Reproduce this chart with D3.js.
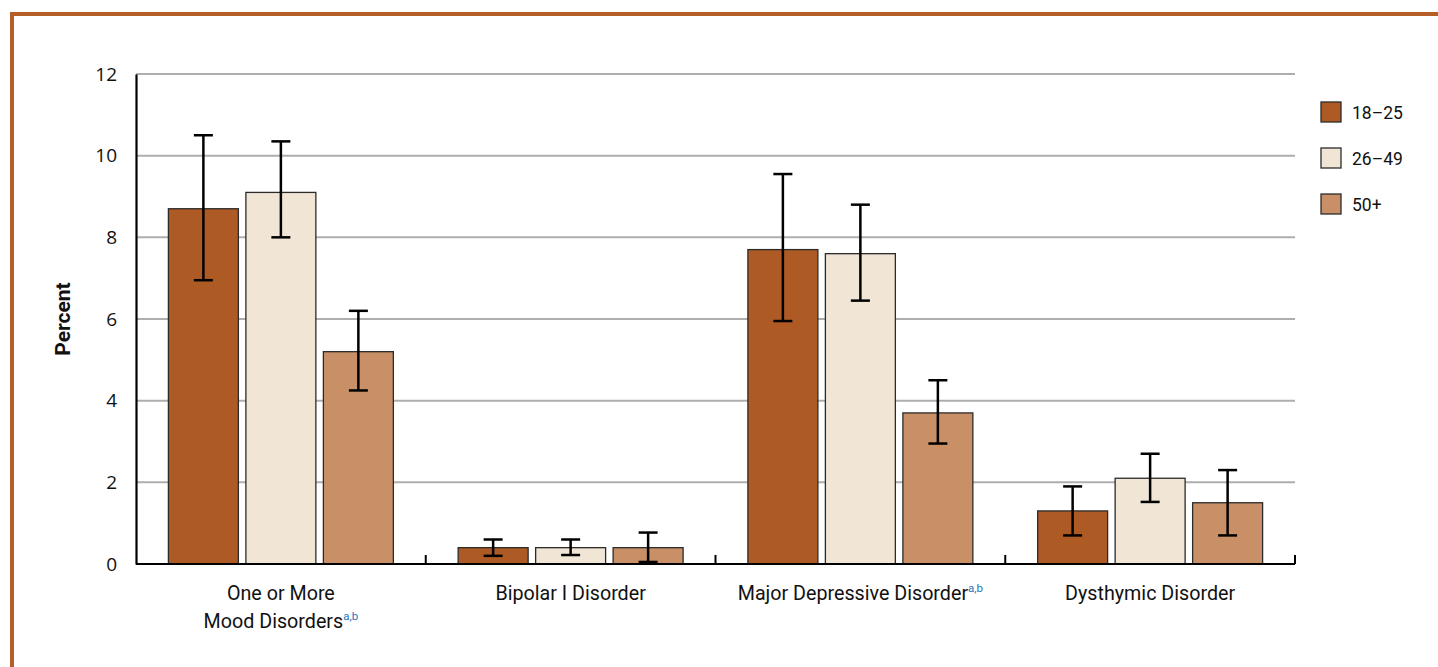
<!DOCTYPE html>
<html>
<head>
<meta charset="utf-8">
<script src="https://cdn.jsdelivr.net/npm/d3@7"></script>
<style>
  html, body { margin: 0; padding: 0; background: #fff; }
  svg { display: block; }
</style>
</head>
<body>
<svg id="chart" width="1438" height="667"></svg>
<script>
// Disorder categories (label lines, superscript footnote marks)
const categories = ["One or More Mood Disorders", "Bipolar I Disorder", "Major Depressive Disorder", "Dysthymic Disorder"];
const categoryLines = [["One or More", "Mood Disorders"], ["Bipolar I Disorder"], ["Major Depressive Disorder"], ["Dysthymic Disorder"]];
const categoryNotes = ["a,b", "", "a,b", ""];

// Age groups
const ageGroups = ["18–25", "26–49", "50+"];

// Percent estimates per age group (one value per category)
const values18to25 = [8.7, 0.4, 7.7, 1.3];
const values26to49 = [9.1, 0.4, 7.6, 2.1];
const values50plus = [5.2, 0.4, 3.7, 1.5];

// Confidence interval bounds
const lower18to25 = [6.95, 0.2, 5.95, 0.7];
const upper18to25 = [10.5, 0.6, 9.55, 1.9];
const lower26to49 = [8.0, 0.22, 6.45, 1.52];
const upper26to49 = [10.35, 0.6, 8.8, 2.7];
const lower50plus = [4.25, 0.05, 2.95, 0.7];
const upper50plus = [6.2, 0.77, 4.5, 2.3];

const yTicks = [0, 2, 4, 6, 8, 10, 12];

const colors = ["#AE5A24", "#F1E5D5", "#C98F66"];

const seriesValues = [values18to25, values26to49, values50plus];
const seriesLower = [lower18to25, lower26to49, lower50plus];
const seriesUpper = [upper18to25, upper26to49, upper50plus];

const svg = d3.select("#chart");

// Frame lines
svg.append("rect").attr("x", 10).attr("y", 12).attr("width", 1428).attr("height", 4).attr("fill", "#B55E27");
svg.append("rect").attr("x", 10).attr("y", 12).attr("width", 4).attr("height", 655).attr("fill", "#B55E27");

const plotLeft = 136, plotRight = 1295, plotTop = 74, plotBottom = 564;

const x = d3.scaleBand().domain(categories).range([plotLeft, plotRight]).paddingInner(0).paddingOuter(0);
const xInner = d3.scaleBand().domain(ageGroups).range([0, x.bandwidth()]).paddingInner(0.097).paddingOuter(0.418);
const y = d3.scaleLinear().domain([0, 12]).range([plotBottom, plotTop]);

// Gridlines
svg.append("g")
  .selectAll("line")
  .data(yTicks.filter(d => d > 0))
  .join("line")
  .attr("x1", plotLeft).attr("x2", plotRight)
  .attr("y1", d => y(d)).attr("y2", d => y(d))
  .attr("stroke", "#AEAEAE").attr("stroke-width", 2);

// Y axis
const yAxis = svg.append("g")
  .attr("transform", `translate(${plotLeft},0)`)
  .call(d3.axisLeft(y).tickValues(yTicks).tickSize(0).tickPadding(19).tickFormat(d3.format("d")));
yAxis.select(".domain").attr("stroke", "#000").attr("stroke-width", 2.2);
yAxis.selectAll("text")
  .attr("font-family", "'Open Sans', 'Noto Sans', sans-serif")
  .attr("font-size", 19).attr("fill", "#111");

const labelFont = "Roboto, 'Liberation Sans', sans-serif";

svg.append("text")
  .attr("transform", `translate(70,${(plotTop + plotBottom) / 2}) rotate(-90)`)
  .attr("text-anchor", "middle")
  .attr("font-family", labelFont)
  .attr("font-weight", "bold")
  .attr("font-size", 21)
  .attr("fill", "#111")
  .text("Percent");

// Bars
const groups = svg.append("g").selectAll("g")
  .data(categories)
  .join("g")
  .attr("transform", d => `translate(${x(d)},0)`);

groups.each(function(cat, ci) {
  const g = d3.select(this);
  ageGroups.forEach((ag, si) => {
    const v = seriesValues[si][ci];
    const bx = xInner(ag);
    g.append("rect")
      .attr("x", bx).attr("y", y(v))
      .attr("width", xInner.bandwidth()).attr("height", y(0) - y(v))
      .attr("fill", colors[si]).attr("stroke", "#2b2b2b").attr("stroke-width", 1.3);
  });
});

// Error bars
groups.each(function(cat, ci) {
  const g = d3.select(this);
  ageGroups.forEach((ag, si) => {
    const cx = xInner(ag) + xInner.bandwidth() / 2;
    const lo = seriesLower[si][ci], hi = seriesUpper[si][ci];
    g.append("line").attr("x1", cx).attr("x2", cx).attr("y1", y(lo)).attr("y2", y(hi))
      .attr("stroke", "#000").attr("stroke-width", 2.5);
    [lo, hi].forEach(b => {
      g.append("line").attr("x1", cx - 9.5).attr("x2", cx + 9.5).attr("y1", y(b)).attr("y2", y(b))
        .attr("stroke", "#000").attr("stroke-width", 2.5);
    });
  });
});

// X axis with upward ticks at category boundaries
svg.append("line").attr("x1", plotLeft).attr("x2", plotRight).attr("y1", plotBottom).attr("y2", plotBottom)
  .attr("stroke", "#000").attr("stroke-width", 2.2);
const boundaries = categories.map(c => x(c)).concat([x(categories[categories.length - 1]) + x.bandwidth()]);
svg.append("g").selectAll("line")
  .data(boundaries.slice(1))
  .join("line")
  .attr("x1", d => d).attr("x2", d => d)
  .attr("y1", plotBottom).attr("y2", plotBottom - 9)
  .attr("stroke", "#000").attr("stroke-width", 2);

// Category labels
categories.forEach((c, ci) => {
  const cx = x(c) + x.bandwidth() / 2;
  const lines = categoryLines[ci];
  lines.forEach((ln, li) => {
    const t = svg.append("text")
      .attr("x", cx).attr("y", 600 + li * 28)
      .attr("text-anchor", "middle")
      .attr("font-family", labelFont)
      .attr("font-size", 19.7).attr("fill", "#111");
    t.append("tspan").text(ln);
    if (li === lines.length - 1 && categoryNotes[ci]) {
      t.append("tspan").attr("dy", -8).attr("font-size", 11.5).attr("fill", "#1F74BA").text(categoryNotes[ci]);
    }
  });
});

// Legend
const legend = svg.append("g").attr("transform", "translate(1321,102)");
ageGroups.forEach((ag, si) => {
  const lg = legend.append("g").attr("transform", `translate(0,${si * 46})`);
  lg.append("rect").attr("width", 20).attr("height", 20)
    .attr("fill", colors[si]).attr("stroke", "#2b2b2b").attr("stroke-width", 1.3);
  lg.append("text").attr("x", 31).attr("y", 16.5)
    .attr("font-family", labelFont).attr("font-size", 17.5).attr("fill", "#111").text(ag);
});
</script>
</body>
</html>
